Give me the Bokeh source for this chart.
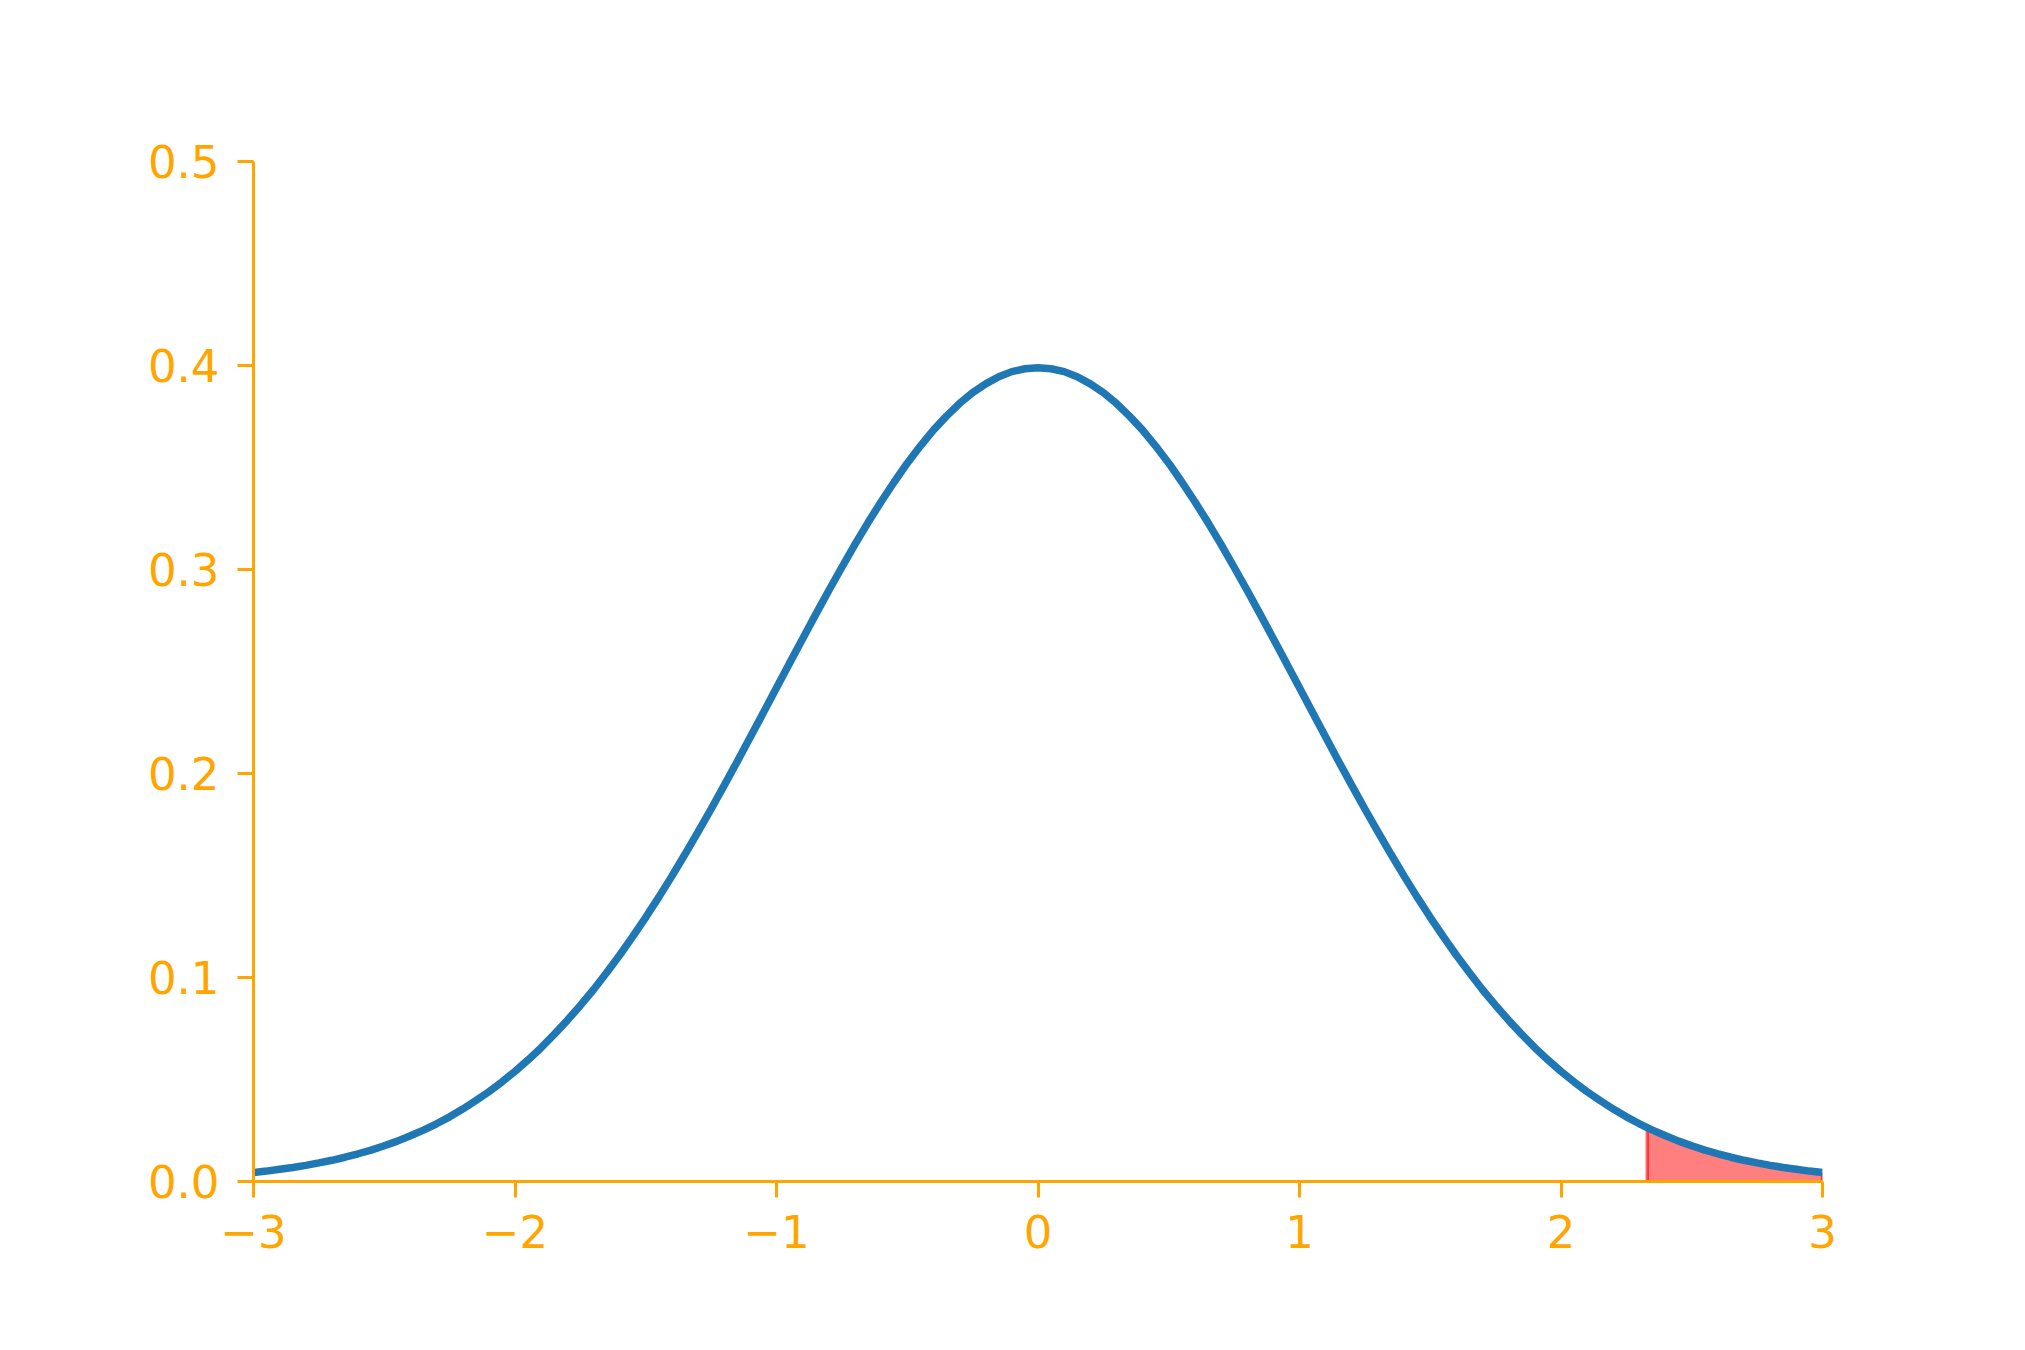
from bokeh.plotting import figure
from bokeh.models import FixedTicker, NumeralTickFormatter, Range1d
from bokeh.embed import file_html
from bokeh.resources import INLINE

# curve samples (x step 0.05)
x_vals = [-3.00, -2.95, -2.90, -2.85, -2.80, -2.75, -2.70, -2.65, -2.60, -2.55,
          -2.50, -2.45, -2.40, -2.35, -2.30, -2.25, -2.20, -2.15, -2.10, -2.05,
          -2.00, -1.95, -1.90, -1.85, -1.80, -1.75, -1.70, -1.65, -1.60, -1.55,
          -1.50, -1.45, -1.40, -1.35, -1.30, -1.25, -1.20, -1.15, -1.10, -1.05,
          -1.00, -0.95, -0.90, -0.85, -0.80, -0.75, -0.70, -0.65, -0.60, -0.55,
          -0.50, -0.45, -0.40, -0.35, -0.30, -0.25, -0.20, -0.15, -0.10, -0.05,
          0.00,
          0.05, 0.10, 0.15, 0.20, 0.25, 0.30, 0.35, 0.40, 0.45, 0.50,
          0.55, 0.60, 0.65, 0.70, 0.75, 0.80, 0.85, 0.90, 0.95, 1.00,
          1.05, 1.10, 1.15, 1.20, 1.25, 1.30, 1.35, 1.40, 1.45, 1.50,
          1.55, 1.60, 1.65, 1.70, 1.75, 1.80, 1.85, 1.90, 1.95, 2.00,
          2.05, 2.10, 2.15, 2.20, 2.25, 2.30, 2.35, 2.40, 2.45, 2.50,
          2.55, 2.60, 2.65, 2.70, 2.75, 2.80, 2.85, 2.90, 2.95, 3.00]
y_vals = [0.0044, 0.0051, 0.0060, 0.0069, 0.0079, 0.0091, 0.0104, 0.0119, 0.0136, 0.0154,
          0.0175, 0.0198, 0.0224, 0.0252, 0.0283, 0.0317, 0.0355, 0.0396, 0.0440, 0.0488,
          0.0540, 0.0596, 0.0656, 0.0721, 0.0790, 0.0863, 0.0940, 0.1023, 0.1109, 0.1200,
          0.1295, 0.1394, 0.1497, 0.1604, 0.1714, 0.1826, 0.1942, 0.2059, 0.2179, 0.2299,
          0.2420, 0.2541, 0.2661, 0.2780, 0.2897, 0.3011, 0.3123, 0.3230, 0.3332, 0.3429,
          0.3521, 0.3605, 0.3683, 0.3752, 0.3814, 0.3867, 0.3910, 0.3945, 0.3970, 0.3984,
          0.3989,
          0.3984, 0.3970, 0.3945, 0.3910, 0.3867, 0.3814, 0.3752, 0.3683, 0.3605, 0.3521,
          0.3429, 0.3332, 0.3230, 0.3123, 0.3011, 0.2897, 0.2780, 0.2661, 0.2541, 0.2420,
          0.2299, 0.2179, 0.2059, 0.1942, 0.1826, 0.1714, 0.1604, 0.1497, 0.1394, 0.1295,
          0.1200, 0.1109, 0.1023, 0.0940, 0.0863, 0.0790, 0.0721, 0.0656, 0.0596, 0.0540,
          0.0488, 0.0440, 0.0396, 0.0355, 0.0317, 0.0283, 0.0252, 0.0224, 0.0198, 0.0175,
          0.0154, 0.0136, 0.0119, 0.0104, 0.0091, 0.0079, 0.0069, 0.0060, 0.0051, 0.0044]

# shaded upper tail
tail_x = [2.33, 2.35, 2.40, 2.45, 2.50, 2.55, 2.60, 2.65, 2.70, 2.75, 2.80, 2.85, 2.90, 2.95, 3.00]
tail_y = [0.0264, 0.0252, 0.0224, 0.0198, 0.0175, 0.0154, 0.0136, 0.0119, 0.0104, 0.0091,
          0.0079, 0.0069, 0.0060, 0.0051, 0.0044]

x_ticks = [-3, -2, -1, 0, 1, 2, 3]
x_tick_labels = {-3: "\u22123", -2: "\u22122", -1: "\u22121", 0: "0", 1: "1", 2: "2", 3: "3"}
y_ticks = [0, 0.1, 0.2, 0.3, 0.4, 0.5]

ORANGE = "#ffa500"
FONT = "DejaVu Sans"

p = figure(width=2009, height=1334, output_backend="svg", toolbar_location=None,
           x_range=Range1d(-3, 3), y_range=Range1d(0, 0.5),
           min_border_left=253, min_border_right=187, min_border_top=161, min_border_bottom=153)
p.outline_line_color = None
p.grid.visible = False
p.background_fill_color = "white"
p.border_fill_color = "white"

zeros = [0] * len(tail_x)
p.varea(x=tail_x, y1=zeros, y2=tail_y, fill_color="red", fill_alpha=0.5)
p.line(x=[tail_x[0], tail_x[0]], y=[0, tail_y[0]], line_color="red", line_alpha=0.6, line_width=3.5)
p.line(x=[tail_x[-1], tail_x[-1]], y=[0, tail_y[-1]], line_color="red", line_alpha=0.6, line_width=3.5)

p.line(x=x_vals, y=y_vals, line_color="#1f77b4", line_width=7.5)

for ax in (p.xaxis[0], p.yaxis[0]):
    ax.axis_line_color = ORANGE
    ax.axis_line_width = 3
    ax.major_tick_line_color = ORANGE
    ax.major_tick_line_width = 3
    ax.major_tick_out = 16
    ax.major_tick_in = 0
    ax.minor_tick_line_color = None
    ax.major_label_text_color = ORANGE
    ax.major_label_text_font = FONT
    ax.major_label_text_font_size = "45px"

p.xaxis.ticker = FixedTicker(ticks=x_ticks)
p.xaxis.major_label_overrides = x_tick_labels
p.xaxis.major_label_standoff = 17
p.yaxis.ticker = FixedTicker(ticks=y_ticks)
p.yaxis.formatter = NumeralTickFormatter(format="0.0")
p.yaxis.major_label_standoff = 18

open("out.html", "w").write(file_html(p, INLINE))
